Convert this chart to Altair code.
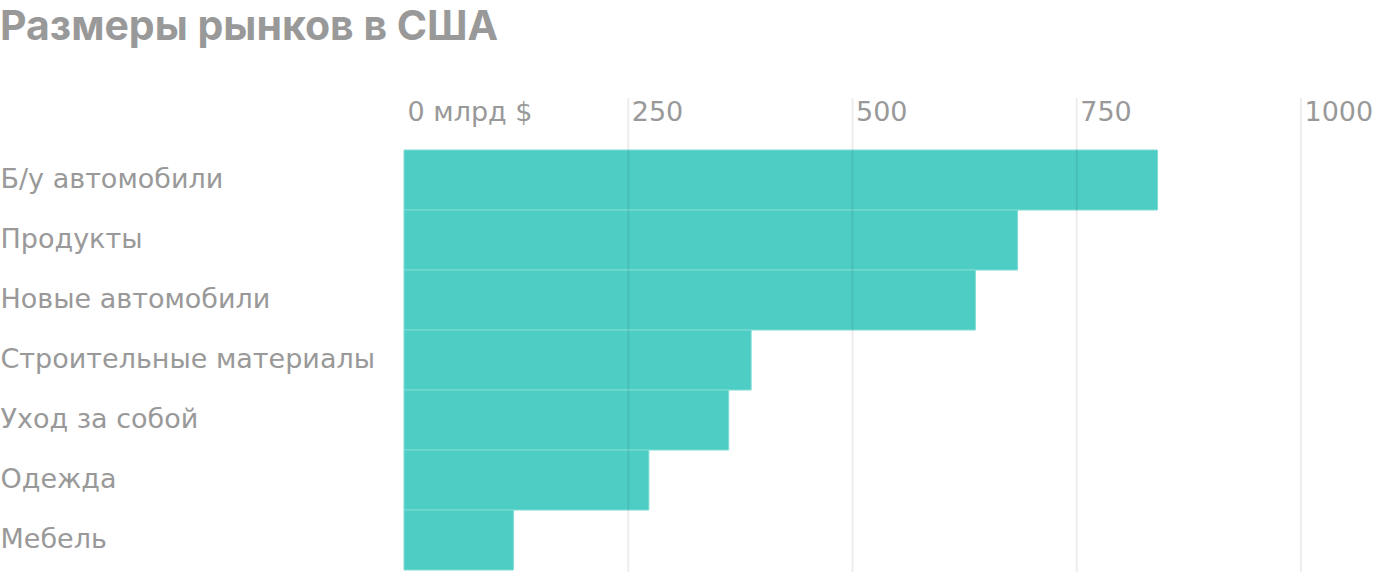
import altair as alt
import pandas as pd

categories = ["Б/у автомобили", "Продукты", "Новые автомобили", "Строительные материалы",
              "Уход за собой", "Одежда", "Мебель"]
values = [840, 684, 637, 387, 362, 273, 122]
tick_values = [0, 250, 500, 750, 1000]
grid_values = [250, 500, 750, 1000]

df = pd.DataFrame({"category": categories, "value": values})
gdf = pd.DataFrame({"tick": grid_values})

TITLE_FONT = "Inter"
FONT = "DejaVu Sans"
GRAY = "#999999"

x_scale = alt.Scale(domain=[0, 1000], nice=False, zero=True)

bars = alt.Chart(df).mark_bar(
    color="#4ecdc4", stroke="#7fdcd5", strokeWidth=1
).encode(
    x=alt.X("value:Q", scale=x_scale,
            axis=alt.Axis(orient="top", values=tick_values, grid=False, domain=False, ticks=False,
                          labelAlign="left", labelOffset=3, labelBaseline="alphabetic",
                          labelPadding=30, labelFont=FONT, labelFontSize=27, labelColor=GRAY,
                          labelExpr="datum.value == 0 ? '0 млрд $' : '' + datum.value",
                          labelFlush=False, labelOverlap=False, title=None)),
    y=alt.Y("category:N", sort=categories, scale=alt.Scale(paddingInner=0, paddingOuter=0),
            axis=alt.Axis(domain=False, ticks=False, labelAlign="left", labelPadding=404,
                          labelFont=FONT, labelFontSize=27, labelColor=GRAY,
                          labelBaseline="middle", title=None, labelLimit=400)),
)

rules = alt.Chart(gdf).mark_rule(color="black", opacity=0.07, strokeWidth=2).encode(
    x=alt.X("tick:Q", scale=x_scale),
    y=alt.value(-52),
    y2=alt.value(422),
)

chart = alt.layer(bars, rules).properties(
    width=897,
    height=420,
    title=alt.TitleParams(
        "Размеры рынков в США", anchor="start", frame="bounds", font=TITLE_FONT,
        fontSize=41, fontWeight="bold", color=GRAY, dy=-44,
    ),
    autosize=alt.AutoSizeParams(type="none"),
    padding={"left": 404, "top": 150, "right": 99, "bottom": 2},
).configure_view(stroke=None)

chart.save("out.html", embed_options={"renderer": "svg", "actions": False})
